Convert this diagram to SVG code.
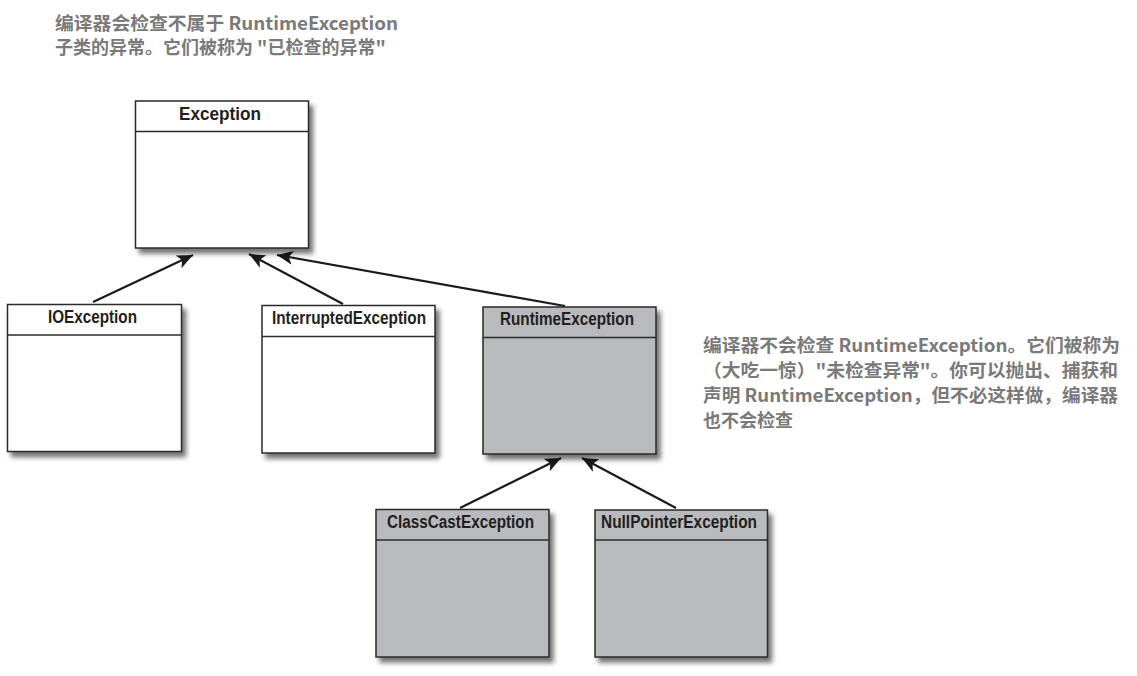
<svg xmlns="http://www.w3.org/2000/svg" width="1137" height="676" viewBox="0 0 1137 676">
<style>
.box{stroke:#2a2a2a;stroke-width:1.5}
.w{fill:#ffffff}
.g{fill:#b9babe}
.hd{stroke:#2a2a2a;stroke-width:1.5}
.lbl{font-family:"Liberation Sans",Arial,sans-serif;font-weight:bold;font-size:18px;fill:#231f20}
.note{font-family:"Noto Sans CJK SC","Noto Sans",sans-serif;font-weight:bold;font-size:18px;fill:#7a7a7a}
.edge{stroke:#1a1a1a;stroke-width:2.2;fill:none;marker-end:url(#arr)}
</style>
<defs>
<filter id="sh" x="-10%" y="-10%" width="130%" height="130%">
<feDropShadow dx="4" dy="5" stdDeviation="2.5" flood-color="#000" flood-opacity="0.55"/>
</filter>
<marker id="arr" markerUnits="userSpaceOnUse" markerWidth="18" markerHeight="14" viewBox="0 0 18 14" refX="16" refY="7" orient="auto">
<path d="M0,0 L16,7 L0,14 L4,7 z" fill="#1a1a1a"/>
</marker>
</defs>
<rect width="1137" height="676" fill="#ffffff"/>

<g id="note-checked">
<text class="note" x="55" y="30" textLength="343" lengthAdjust="spacingAndGlyphs">编译器会检查不属于 RuntimeException</text>
<text class="note" x="55" y="54">子类的异常。它们被称为 "已检查的异常"</text>
</g>

<g id="note-unchecked">
<text class="note" x="703" y="352" textLength="417" lengthAdjust="spacingAndGlyphs">编译器不会检查 RuntimeException。它们被称为</text>
<text class="note" x="703" y="377" textLength="415" lengthAdjust="spacingAndGlyphs">（大吃一惊）"未检查异常"。你可以抛出、捕获和</text>
<text class="note" x="703" y="402" textLength="415" lengthAdjust="spacingAndGlyphs">声明 RuntimeException，但不必这样做，编译器</text>
<text class="note" x="703" y="427">也不会检查</text>
</g>

<g id="connectors">
<line class="edge" x1="93" y1="302" x2="193" y2="255"/>
<line class="edge" x1="343" y1="304" x2="249" y2="254"/>
<line class="edge" x1="565" y1="306" x2="277" y2="255"/>
<line class="edge" x1="460" y1="508" x2="561" y2="458"/>
<line class="edge" x1="676" y1="508" x2="582" y2="458"/>
</g>

<g id="Exception">
<rect class="box w" x="135.5" y="101" width="173" height="147" filter="url(#sh)"/>
<line class="hd" x1="135.5" y1="131.5" x2="308.5" y2="131.5"/>
<text class="lbl" x="179" y="120" textLength="82" lengthAdjust="spacingAndGlyphs">Exception</text>
</g>

<g id="IOException">
<rect class="box w" x="7.5" y="304.5" width="174" height="147" filter="url(#sh)"/>
<line class="hd" x1="7.5" y1="335" x2="181.5" y2="335"/>
<text class="lbl" x="48" y="323" textLength="89" lengthAdjust="spacingAndGlyphs">IOException</text>
</g>

<g id="InterruptedException">
<rect class="box w" x="262" y="305.5" width="173" height="147.5" filter="url(#sh)"/>
<line class="hd" x1="262" y1="336.5" x2="435" y2="336.5"/>
<text class="lbl" x="272" y="324" textLength="154" lengthAdjust="spacingAndGlyphs">InterruptedException</text>
</g>

<g id="RuntimeException">
<rect class="box g" x="483" y="307" width="173" height="147" filter="url(#sh)"/>
<line class="hd" x1="483" y1="337.5" x2="656" y2="337.5"/>
<text class="lbl" x="500" y="325" textLength="134" lengthAdjust="spacingAndGlyphs">RuntimeException</text>
</g>

<g id="ClassCastException">
<rect class="box g" x="376" y="509.5" width="173" height="147.5" filter="url(#sh)"/>
<line class="hd" x1="376" y1="540" x2="549" y2="540"/>
<text class="lbl" x="387" y="528" textLength="147" lengthAdjust="spacingAndGlyphs">ClassCastException</text>
</g>

<g id="NullPointerException">
<rect class="box g" x="595" y="510" width="172.5" height="147" filter="url(#sh)"/>
<line class="hd" x1="595" y1="540" x2="767.5" y2="540"/>
<text class="lbl" x="601" y="528" textLength="156" lengthAdjust="spacingAndGlyphs">NullPointerException</text>
</g>
</svg>
